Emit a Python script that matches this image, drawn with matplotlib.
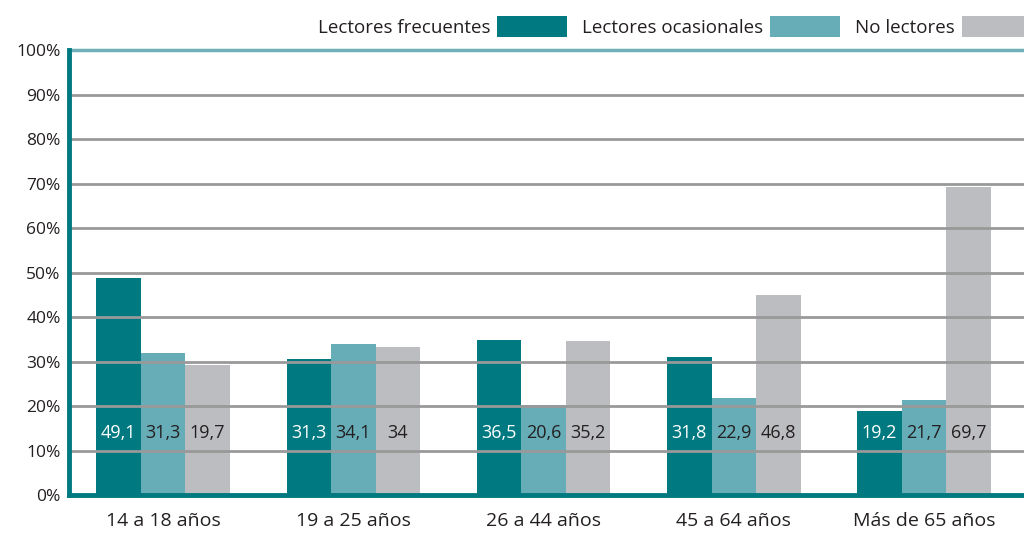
import matplotlib.pyplot as plt
import numpy as np
from matplotlib.patches import Patch

plt.rcParams['font.family'] = ['Open Sans', 'DejaVu Sans']

grupos = ['14 a 18 años', '19 a 25 años', '26 a 44 años', '45 a 64 años', 'Más de 65 años']
series = ['Lectores frecuentes', 'Lectores ocasionales', 'No lectores']
colores = ['#007a80', '#66adb7', '#bcbdc0']

# altura de las barras
alturas = [
    [48.9, 30.7, 34.9, 31.1, 19.0],
    [32.0, 34.0, 20.3, 21.9, 21.5],
    [29.3, 33.4, 34.7, 45.1, 69.3],
]
# valores rotulados dentro de las barras
rotulos = [
    ['49,1', '31,3', '36,5', '31,8', '19,2'],
    ['31,3', '34,1', '20,6', '22,9', '21,7'],
    ['19,7', '34', '35,2', '46,8', '69,7'],
]
color_texto = ['white', '#231f20', '#231f20']

fig = plt.figure(figsize=(10.24, 5.33), dpi=100)
ax = fig.add_axes([0.0674, 0.0704, 0.9326, 0.8356])

x = np.arange(len(grupos))
ancho = 0.234
for i in range(3):
    pos = x + (i - 1) * ancho
    ax.bar(pos, alturas[i], width=ancho, color=colores[i], zorder=1)
    for j in range(len(grupos)):
        ax.text(pos[j], 14.0, rotulos[i][j], ha='center', va='center',
                color=color_texto[i], fontsize=13, zorder=3)

ax.set_ylim(0, 100)
ax.set_xlim(-0.494, 4.525)
ax.set_yticks(np.arange(0, 101, 10))
ax.set_yticklabels([f'{v}%' for v in range(0, 101, 10)])
ax.set_xticks(x)
ax.set_xticklabels(grupos)
ax.tick_params(axis='both', length=0, labelsize=12.5, colors='#231f20')
ax.tick_params(axis='y', pad=6)
ax.tick_params(axis='x', pad=12, labelsize=14)

for v in range(10, 100, 10):
    ax.axhline(v, color='#999999', linewidth=2, zorder=2)
ax.axhline(100, color='#6fb0b8', linewidth=2.5, zorder=2, clip_on=False)

for s in ['top', 'right']:
    ax.spines[s].set_visible(False)
ax.spines['left'].set_color('#007a80')
ax.spines['left'].set_linewidth(3.5)
ax.spines['bottom'].set_color('#007a80')
ax.spines['bottom'].set_linewidth(3.5)

handles = [Patch(facecolor=c, edgecolor='none') for c in colores]
ax.legend(handles, series, loc='lower right', bbox_to_anchor=(1.022, 1.0),
          ncol=3, markerfirst=False, frameon=False, fontsize=13.5,
          handlelength=3.75, handleheight=1.3, handletextpad=0.35,
          columnspacing=0.8, borderaxespad=0.3, labelcolor='#231f20')

fig.savefig('out.png', dpi=100)
